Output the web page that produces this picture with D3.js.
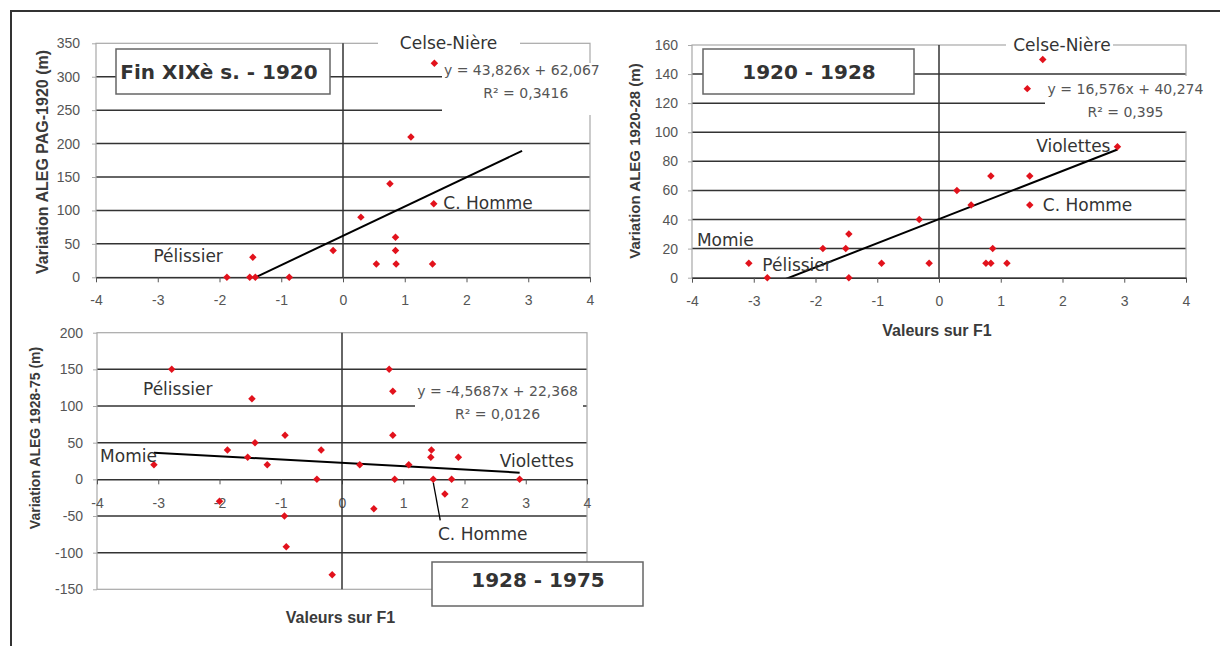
<!DOCTYPE html>
<html>
<head>
<meta charset="utf-8">
<script src="https://cdn.jsdelivr.net/npm/d3@7"></script>
<style>
  body { margin: 0; background: #fff; }
  svg { display: block; }
</style>
</head>
<body>
<script>
// shared x axis (Valeurs sur F1)
const xTicks = [-4, -3, -2, -1, 0, 1, 2, 3, 4];

// Fin XIXe s. - 1920
const c1Ticks = [0, 50, 100, 150, 200, 250, 300, 350];
const c1X = [-1.88, -1.51, -1.42, -1.46, -0.87, 1.48, 1.10, 0.76, 1.47, 0.29, 0.85, -0.16, 0.85, 0.54, 0.86, 1.45];
const c1Y = [0, 0, 0, 30, 0, 320, 210, 140, 110, 90, 60, 40, 40, 20, 20, 20];
const c1Fit = [43.826, 62.067];
const c1FitX = [-1.88, 2.9];
const c1Eq = ["y = 43,826x + 62,067", "R² = 0,3416"];

// 1920 - 1928
const c2Ticks = [0, 20, 40, 60, 80, 100, 120, 140, 160];
const c2X = [-3.08, -2.78, -1.88, -1.51, -1.46, -1.46, -0.93, -0.32, -0.16, 0.29, 0.52, 0.84, 1.47, 1.47, 2.89, 1.68, 1.43, 0.87, 0.76, 0.84, 1.10];
const c2Y = [10, 0, 20, 20, 30, 0, 10, 40, 10, 60, 50, 70, 70, 50, 90, 150, 130, 20, 10, 10, 10];
const c2Fit = [16.576, 40.274];
const c2FitX = [-3.08, 2.89];
const c2Eq = ["y = 16,576x + 40,274", "R² = 0,395"];

// 1928 - 1975
const c3Ticks = [-150, -100, -50, 0, 50, 100, 150, 200];
const c3X = [-2.78, -3.07, -1.47, -1.42, -1.54, -1.87, -1.22, -0.93, -0.34, -0.41, -2.0, -0.94, -0.91, -0.16,
             0.77, 0.83, 0.83, 0.29, 1.09, 1.46, 1.45, 1.90, 0.86, 1.49, 1.79, 2.90, 1.68, 0.52];
const c3Y = [150, 20, 110, 50, 30, 40, 20, 60, 40, 0, -30, -50, -92, -130,
             150, 120, 60, 20, 20, 40, 30, 30, 0, 0, 0, 0, -20, -40];
const c3Fit = [-4.5687, 22.368];
const c3FitX = [-3.07, 2.90];
const c3Eq = ["y = -4,5687x + 22,368", "R² = 0,0126"];

const W = 1220, H = 646;
const svg = d3.select("body").append("svg").attr("width", W).attr("height", H);

// outer frame (only top and left edges visible)
svg.append("path").attr("d", "M11,646V11H1220")
  .attr("fill", "none").attr("stroke", "#333").attr("stroke-width", 2);

const labelFont = "'DejaVu Sans', Verdana, sans-serif";
const tickFont = "'Liberation Sans', Arial, sans-serif";
const plain = d => String(d); // keep the hyphen minus of the original

function drawScatter(o) {
  const x = d3.scaleLinear().domain([-4, 4]).range(o.xRange);
  const y = d3.scaleLinear().domain(d3.extent(o.yTicks)).range(o.yRange);
  const x0 = o.xRange[0], x1 = o.xRange[1], yTop = o.yRange[1], yBot = o.yRange[0];
  const g = svg.append("g");

  svg.append("clipPath").attr("id", "clip" + o.id).append("rect")
    .attr("x", x0).attr("y", yTop).attr("width", x1 - x0).attr("height", yBot - yTop);

  // gridlines
  const inner = o.yTicks.filter(v => v !== 0 && v !== o.yTicks[0] && v !== o.yTicks[o.yTicks.length - 1]);
  g.selectAll("line.grid").data(inner).join("line")
    .attr("x1", x0).attr("x2", x1)
    .attr("y1", d => y(d)).attr("y2", d => y(d))
    .attr("stroke", "#333").attr("stroke-width", 1.5);

  // plot frame
  g.append("rect").attr("x", x0).attr("y", yTop).attr("width", x1 - x0).attr("height", yBot - yTop)
    .attr("fill", "none").attr("stroke", "#a8a8a8").attr("stroke-width", 1.2);

  // white label backgrounds hiding the grid
  o.covers.forEach(c => {
    g.append("rect").attr("x", c[0]).attr("y", c[1]).attr("width", c[2]).attr("height", c[3]).attr("fill", "#fff");
  });

  // y tick labels on the left edge
  const ya = g.append("g").attr("transform", `translate(${x0},0)`)
    .call(d3.axisLeft(y).tickValues(o.yTicks).tickFormat(plain).tickSize(4).tickSizeOuter(0).tickPadding(o.yPad));
  ya.select(".domain").remove();
  ya.selectAll("line").attr("stroke", "#a8a8a8");
  ya.selectAll("text").attr("font-family", tickFont).attr("font-size", 14).attr("fill", "#555");

  // x axis through y = 0
  const xa = g.append("g").attr("transform", `translate(0,${y(0)})`)
    .call(d3.axisBottom(x).tickValues(xTicks).tickFormat(plain).tickSize(5).tickSizeOuter(0).tickPadding(o.xPad));
  xa.select(".domain").attr("stroke", "#333").attr("stroke-width", 1.5);
  xa.selectAll("line").attr("stroke", "#555");
  xa.selectAll("text").attr("font-family", tickFont).attr("font-size", 14).attr("fill", "#555");

  // vertical axis through x = 0
  g.append("line").attr("x1", x(0)).attr("x2", x(0)).attr("y1", yTop).attr("y2", yBot)
    .attr("stroke", "#333").attr("stroke-width", 1.5);

  // linear trend
  const line = d3.line().x(d => x(d)).y(d => y(o.fit[0] * d + o.fit[1]));
  g.append("path").attr("d", line(o.fitX)).attr("clip-path", `url(#clip${o.id})`)
    .attr("fill", "none").attr("stroke", "#000").attr("stroke-width", 2);

  // leader lines
  (o.leaders || []).forEach(l => {
    g.append("line").attr("x1", x(l.at[0]) + l.d1[0]).attr("y1", y(l.at[1]) + l.d1[1])
      .attr("x2", x(l.at[0]) + l.d2[0]).attr("y2", y(l.at[1]) + l.d2[1])
      .attr("stroke", "#000").attr("stroke-width", 1.3);
  });

  // points
  g.selectAll("path.pt").data(d3.zip(o.xs, o.ys)).join("path")
    .attr("class", "pt")
    .attr("d", d3.symbol(d3.symbolSquare, 28))
    .attr("transform", d => `translate(${x(d[0])},${y(d[1])}) rotate(45)`)
    .attr("fill", "#e2121c");

  // point names
  o.names.forEach(n => {
    g.append("text").attr("x", x(n.at[0]) + (n.dx || 0)).attr("y", y(n.at[1]) + (n.dy || 0))
      .attr("dy", "0.35em").attr("text-anchor", n.anchor || "start")
      .attr("font-family", labelFont).attr("font-size", 17).attr("fill", "#333")
      .text(n.text);
  });

  // regression equation
  const ex = x(o.eqAt[0]), ey = y(o.eqAt[1]);
  o.eq.forEach((t, i) => {
    g.append("text").attr("x", ex + (i ? o.eqShift : 0)).attr("y", ey + i * 23).attr("dy", "0.35em")
      .attr("text-anchor", "middle").attr("font-family", labelFont).attr("font-size", 14)
      .attr("fill", "#555").text(t);
  });

  // axis titles
  g.append("text").attr("transform", `translate(${o.yTitle[0]},${o.yTitle[1]}) rotate(-90)`)
    .attr("text-anchor", "middle").attr("dy", "0.35em")
    .attr("font-family", tickFont).attr("font-weight", "bold").attr("font-size", o.yTitleSize)
    .attr("fill", "#3a3a3a").text(o.yTitleText);
  if (o.xTitle) {
    g.append("text").attr("x", o.xTitle[0]).attr("y", o.xTitle[1]).attr("dy", "0.35em")
      .attr("text-anchor", "middle").attr("font-family", tickFont).attr("font-weight", "bold")
      .attr("font-size", 16).attr("fill", "#3a3a3a").text("Valeurs sur F1");
  }

  // period box
  const b = o.box;
  g.append("rect").attr("x", b[0]).attr("y", b[1]).attr("width", b[2]).attr("height", b[3])
    .attr("fill", "#fff").attr("stroke", "#666").attr("stroke-width", 1.5);
  g.append("text").attr("x", o.boxText[0]).attr("y", o.boxText[1]).attr("dy", "0.36em")
    .attr("text-anchor", "middle").attr("font-family", labelFont).attr("font-weight", "bold")
    .attr("font-size", 20).attr("fill", "#333").text(o.title);
}

drawScatter({
  id: 1, xRange: [96, 590], yRange: [277.3, 43.3], yTicks: c1Ticks, xs: c1X, ys: c1Y,
  fit: c1Fit, fitX: c1FitX, eq: c1Eq, eqAt: [2.896, 310], eqShift: 4,
  yPad: 12, xPad: 13,
  covers: [[442, 63, 160, 52], [378, 34, 142, 18]],
  names: [
    { text: "Celse-Nière", at: [1.71, 350], anchor: "middle" },
    { text: "C. Homme", at: [1.47, 110], dx: 9.5, dy: -1 },
    { text: "Pélissier", at: [-3.07, 32] }
  ],
  yTitle: [42, 162], yTitleSize: 16, yTitleText: "Variation ALEG PAG-1920 (m)",
  box: [116, 49, 214, 45], boxText: [219, 72], title: "Fin XIXè s. - 1920"
});

drawScatter({
  id: 2, xRange: [692, 1186], yRange: [277.7, 45], yTicks: c2Ticks, xs: c2X, ys: c2Y,
  fit: c2Fit, fitX: c2FitX, eq: c2Eq, eqAt: [3.02, 129.7], eqShift: 0,
  yPad: 10, xPad: 13,
  covers: [[1045, 76, 160, 55], [1006, 34, 107, 18]],
  names: [
    { text: "Celse-Nière", at: [1.99, 160], anchor: "middle" },
    { text: "Violettes", at: [2.89, 90], dx: -7, dy: -1, anchor: "end" },
    { text: "C. Homme", at: [1.47, 50], dx: 13 },
    { text: "Momie", at: [-3.92, 25.9] },
    { text: "Pélissier", at: [-2.78, 0], dx: -5, dy: -13 }
  ],
  yTitle: [635, 161], yTitleSize: 15, yTitleText: "Variation ALEG 1920-28 (m)",
  xTitle: [937, 330],
  box: [703, 49, 211, 45], boxText: [809, 72], title: "1920 - 1928"
});

drawScatter({
  id: 3, xRange: [97, 587], yRange: [589.3, 332.7], yTicks: c3Ticks, xs: c3X, ys: c3Y,
  fit: c3Fit, fitX: c3FitX, eq: c3Eq, eqAt: [2.54, 120.6], eqShift: 0,
  yPad: 10, xPad: 14,
  covers: [[415, 378, 168, 50]],
  names: [
    { text: "Pélissier", at: [-2.78, 150], dx: -28.7, dy: 20 },
    { text: "Momie", at: [-3.95, 31.8] },
    { text: "Violettes", at: [2.575, 24.6] },
    { text: "C. Homme", at: [1.49, 0], dx: 4.7, dy: 55 }
  ],
  leaders: [{ at: [1.49, 0], d1: [0, 3], d2: [7, 41] }],
  yTitle: [35, 438], yTitleSize: 14, yTitleText: "Variation ALEG 1928-75 (m)",
  xTitle: [340.5, 617],
  box: [432, 562, 211, 44], boxText: [538, 580], title: "1928 - 1975"
});
</script>
</body>
</html>
